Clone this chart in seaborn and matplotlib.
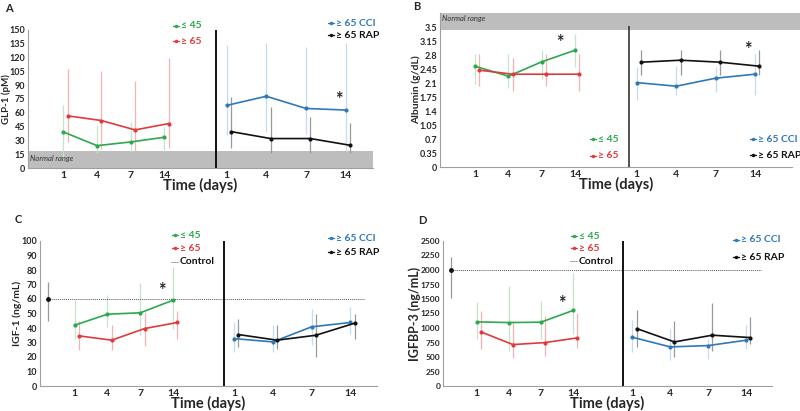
import numpy as np
import pandas as pd
import matplotlib
matplotlib.use("Agg")
import matplotlib.pyplot as plt
import seaborn as sns
from matplotlib.lines import Line2D

sns.set_style("white")
plt.rcParams['font.family'] = ['Lato', 'DejaVu Sans']

# colori stile Excel
VERDE = "#2ea84e"
ROSSO = "#e03a3a"
BLU = "#2f78b9"
NERO = "#111111"
VERDE_L = "#c2e5cb"
ROSSO_L = "#f4b3b3"
BLU_L = "#c4dcf1"
NERO_L = "#999999"

giorni = ["1", "4", "7", "14"]

# ---- A: GLP-1 (pM)
glp_le45 = [39.2, 24.3, 28.3, 33.4]
glp_le45_lo = [10, 16, 17, 17]
glp_le45_hi = [68, 46.5, 50, 45]
glp_ge65 = [56.7, 51.6, 41.4, 48.3]
glp_ge65_lo = [28, 21, 19, 22]
glp_ge65_hi = [108, 105, 94.5, 120]
glp_cci = [68, 78, 64.7, 63]
glp_cci_lo = [35.6, 39, 37, 19]
glp_cci_hi = [133.7, 135.5, 132, 136]
glp_rap = [39.6, 32, 32, 24.7]
glp_rap_lo = [21.8, 16, 16, 16]
glp_rap_hi = [77, 66, 55, 49.4]

# ---- B: Albumina (g/dL)
alb_le45 = [2.52, 2.27, 2.63, 2.92]
alb_le45_lo = [2.08, 1.98, 2.19, 2.5]
alb_le45_hi = [2.83, 2.83, 2.93, 3.33]
alb_ge65 = [2.42, 2.32, 2.32, 2.32]
alb_ge65_lo = [2.02, 1.9, 2.02, 1.9]
alb_ge65_hi = [2.83, 2.72, 2.83, 2.82]
alb_cci = [2.11, 2.02, 2.22, 2.32]
alb_cci_lo = [1.67, 1.79, 1.88, 1.79]
alb_cci_hi = [2.5, 2.52, 2.5, 2.83]
alb_rap = [2.62, 2.67, 2.62, 2.52]
alb_rap_lo = [2.29, 2.29, 2.29, 2.29]
alb_rap_hi = [2.92, 2.92, 2.92, 2.92]

# ---- C: IGF-1 (ng/mL)
igf_ctrl = [59.9, 44.7, 71.9]  # media, min, max
igf_le45 = [41.9, 49.5, 50.5, 59.2]
igf_le45_lo = [32.7, 40.8, 35, 39.6]
igf_le45_hi = [59, 63, 71, 82]
igf_ge65 = [34.6, 31.6, 39.6, 43.8]
igf_ge65_lo = [25, 25, 27.6, 32.7]
igf_ge65_hi = [44.7, 42, 50.7, 51.6]
igf_cci = [32.7, 30.4, 40.8, 43.8]
igf_cci_lo = [23.5, 23.5, 28, 36.2]
igf_cci_hi = [43.8, 42.4, 52.8, 54.6]
igf_rap = [35.5, 31.6, 35, 43.3]
igf_rap_lo = [26.7, 25.8, 20, 32.7]
igf_rap_hi = [46.5, 42, 49.5, 50]

# ---- D: IGFBP-3 (ng/mL)
bp3_ctrl = [1993, 1521, 2218]
bp3_le45 = [1106, 1094, 1100, 1302]
bp3_le45_lo = [818, 605, 818, 904]
bp3_le45_hi = [1452, 1722, 1469, 1941]
bp3_ge65 = [933, 714, 749, 829]
bp3_ge65_lo = [645, 480, 520, 657]
bp3_ge65_hi = [1290, 1117, 1204, 1267]
bp3_cci = [841, 674, 697, 789]
bp3_cci_lo = [588, 444, 472, 634]
bp3_cci_hi = [1135, 991, 818, 1048]
bp3_rap = [991, 760, 876, 835]
bp3_rap_lo = [674, 501, 599, 732]
bp3_rap_hi = [1308, 1117, 1423, 1187]

W, H = 800, 411
fig = plt.figure(figsize=(8, 4.11), dpi=100)

x_sx = np.arange(1, 5)
x_dx = 5.85 + np.arange(4) * 1.18
DIV = 5.55
OFF = 0.13


def fx(px):
    return px / W


def fy(py):
    return 1 - py / H


def serie(ax, xs, vals, lo, hi, col, col_l):
    ax.vlines(xs, lo, hi, color=col_l, lw=0.9, zorder=2)
    df = pd.DataFrame({"x": xs, "y": vals})
    sns.lineplot(data=df, x="x", y="y", ax=ax, color=col, lw=1.2, marker="o",
                 markersize=3, markeredgewidth=0, zorder=3, sort=False)


def chiave(px, py, col, testo, tratteggio=False):
    if tratteggio:
        fig.add_artist(Line2D([fx(px - 1), fx(px + 7)], [fy(py), fy(py)], color="#555555",
                              lw=0.7, ls=(0, (1, 1))))
    else:
        fig.add_artist(Line2D([fx(px), fx(px + 6)], [fy(py), fy(py)], color=col, lw=1.0))
        fig.add_artist(Line2D([fx(px + 3)], [fy(py)], color=col, marker="o", markersize=2.5,
                              markeredgewidth=0))
    fig.text(fx(px + 8), fy(py), testo, color=col, fontsize=7.5, fontweight="bold",
             va="center", ha="left")


def pannello(box, ylim, yticks, yfmt, ylabel, dati, lettera, lpos, ylx, ysize=7.5, tsize=6.5):
    # box = (sinistra, alto, destra, basso) in pixel
    l, t, r, b = box
    ax = fig.add_axes([fx(l), fy(b), (r - l) / W, (b - t) / H])
    for k, (vals, lo, hi, col, col_l) in enumerate(dati):
        xs = (x_sx if k < 2 else x_dx) + (OFF if k % 2 else 0.0)
        serie(ax, xs, vals, lo, hi, col, col_l)
    ax.set_xlim(-0.05, 10.2)
    ax.set_ylim(*ylim)
    ax.set_yticks(yticks)
    ax.set_yticklabels([yfmt(v) for v in yticks], fontsize=tsize, fontweight="bold")
    ax.set_xticks(list(x_sx) + list(x_dx))
    ax.set_xticklabels(giorni + giorni, fontsize=7.5, fontweight="bold")
    ax.tick_params(length=0, pad=2)
    for s in ["top", "right"]:
        ax.spines[s].set_visible(False)
    for s in ["left", "bottom"]:
        ax.spines[s].set_color("#a0a0a0")
        ax.spines[s].set_linewidth(0.8)
    ax.set_xlabel("Time (days)", fontsize=10.5, fontweight="bold", labelpad=-1)
    ax.set_ylabel(ylabel, fontsize=ysize, fontweight="bold")
    # ylx = bordo destro dell'etichetta, in pixel
    ax.yaxis.set_label_coords((ylx - l) / (r - l), 0.5)
    fig.text(fx(lpos[0]), fy(lpos[1]), lettera, fontsize=8, fontweight="bold",
             ha="left", va="center")
    return ax


# A
axA = pannello((28, 30, 373, 168), (0, 150), np.arange(0, 151, 15),
               lambda v: f"{v:g}", "GLP-1 (pM)",
               [(glp_le45, glp_le45_lo, glp_le45_hi, VERDE, VERDE_L),
                (glp_ge65, glp_ge65_lo, glp_ge65_hi, ROSSO, ROSSO_L),
                (glp_cci, glp_cci_lo, glp_cci_hi, BLU, BLU_L),
                (glp_rap, glp_rap_lo, glp_rap_hi, NERO, NERO_L)], "A", (5, 8), 11, ysize=7)
axA.axhspan(0, 18, color="#bdbdbd", zorder=1, lw=0)
axA.text(0.02, 10, "Normal range", fontsize=5.5, style="italic", color="#333333", va="center")
axA.axvline(DIV, color=NERO, lw=1.4, zorder=4)
axA.text(x_dx[3] - 0.2, 74, "*", fontsize=13, fontweight="bold", ha="center", va="center")
chiave(173, 26, VERDE, "≤ 45")
chiave(173, 41, ROSSO, "≥ 65")
chiave(328, 23, BLU, "≥ 65 CCI")
chiave(328, 35, NERO, "≥ 65 RAP")

# B
axB = pannello((440, 13, 792, 167), (0, 3.85), np.arange(0, 3.51, 0.35),
               lambda v: f"{v:.2f}".rstrip("0").rstrip(".") if v else "0", "Albumin (g/dL)",
               [(alb_le45, alb_le45_lo, alb_le45_hi, VERDE, VERDE_L),
                (alb_ge65, alb_ge65_lo, alb_ge65_hi, ROSSO, ROSSO_L),
                (alb_cci, alb_cci_lo, alb_cci_hi, BLU, BLU_L),
                (alb_rap, alb_rap_lo, alb_rap_hi, NERO, NERO_L)], "B", (413, 6), 421)
axB.set_xlim(-0.05, 10.5)
axB.axhspan(3.42, 3.85, xmin=0, xmax=1.04, color="#bdbdbd", zorder=1, lw=0, clip_on=False)
axB.text(0.02, 3.72, "Normal range", fontsize=5.5, style="italic", color="#333333", va="center")
axB.vlines(DIV + 0.05, 0, 3.52, color="#333333", lw=1.2, zorder=4)
axB.text(x_sx[3] - 0.45, 3.12, "*", fontsize=13, fontweight="bold", ha="center", va="center")
axB.text(x_dx[3] - 0.2, 2.93, "*", fontsize=13, fontweight="bold", ha="center", va="center")
chiave(590, 139, VERDE, "≤ 45")
chiave(590, 156, ROSSO, "≥ 65")
chiave(750, 139, BLU, "≥ 65 CCI")
chiave(750, 155, NERO, "≥ 65 RAP")

# C
axC = pannello((40, 241, 377, 386), (0, 100), np.arange(0, 101, 10),
               lambda v: f"{v:g}", "IGF-1 (ng/mL)",
               [(igf_le45, igf_le45_lo, igf_le45_hi, VERDE, VERDE_L),
                (igf_ge65, igf_ge65_lo, igf_ge65_hi, ROSSO, ROSSO_L),
                (igf_cci, igf_cci_lo, igf_cci_hi, BLU, BLU_L),
                (igf_rap, igf_rap_lo, igf_rap_hi, NERO, NERO_L)], "C", (15, 219), 22)
axC.hlines(igf_ctrl[0], 0.2, 9.85, color="#555555", lw=0.7, ls=(0, (1, 1)), zorder=2)
axC.vlines(0.2, igf_ctrl[1], igf_ctrl[2], color=NERO_L, lw=0.9)
axC.plot([0.2], [igf_ctrl[0]], "o", color=NERO, markersize=2.5)
axC.vlines(DIV, 0, 100, color=NERO, lw=1.4, zorder=4)
axC.text(x_sx[3] - 0.35, 66, "*", fontsize=13, fontweight="bold", ha="center", va="center")
chiave(172, 235, VERDE, "≤ 45")
chiave(172, 248, ROSSO, "≥ 65")
chiave(172, 262, NERO, "Control", tratteggio=True)
chiave(328, 238, BLU, "≥ 65 CCI")
chiave(328, 252, NERO, "≥ 65 RAP")

# D
axD = pannello((443, 241, 772, 386), (0, 2500), np.arange(0, 2501, 250),
               lambda v: f"{v:g}", "IGFBP-3 (ng/mL)",
               [(bp3_le45, bp3_le45_lo, bp3_le45_hi, VERDE, VERDE_L),
                (bp3_ge65, bp3_ge65_lo, bp3_ge65_hi, ROSSO, ROSSO_L),
                (bp3_cci, bp3_cci_lo, bp3_cci_hi, BLU, BLU_L),
                (bp3_rap, bp3_rap_lo, bp3_rap_hi, NERO, NERO_L)], "D", (418, 220), 421,
               ysize=9, tsize=6)
axD.hlines(bp3_ctrl[0], 0.2, 9.85, color="#555555", lw=0.7, ls=(0, (1, 1)), zorder=2)
axD.vlines(0.2, bp3_ctrl[1], bp3_ctrl[2], color=NERO_L, lw=0.9)
axD.plot([0.2], [bp3_ctrl[0]], "o", color=NERO, markersize=2.5)
axD.vlines(DIV, 0, 2500, color=NERO, lw=1.4, zorder=4)
axD.text(x_sx[3] - 0.35, 1420, "*", fontsize=13, fontweight="bold", ha="center", va="center")
chiave(571, 236, VERDE, "≤ 45")
chiave(571, 248, ROSSO, "≥ 65")
chiave(571, 261, NERO, "Control", tratteggio=True)
chiave(733, 240, BLU, "≥ 65 CCI")
chiave(733, 257, NERO, "≥ 65 RAP")

fig.savefig("out.png", dpi=100)
